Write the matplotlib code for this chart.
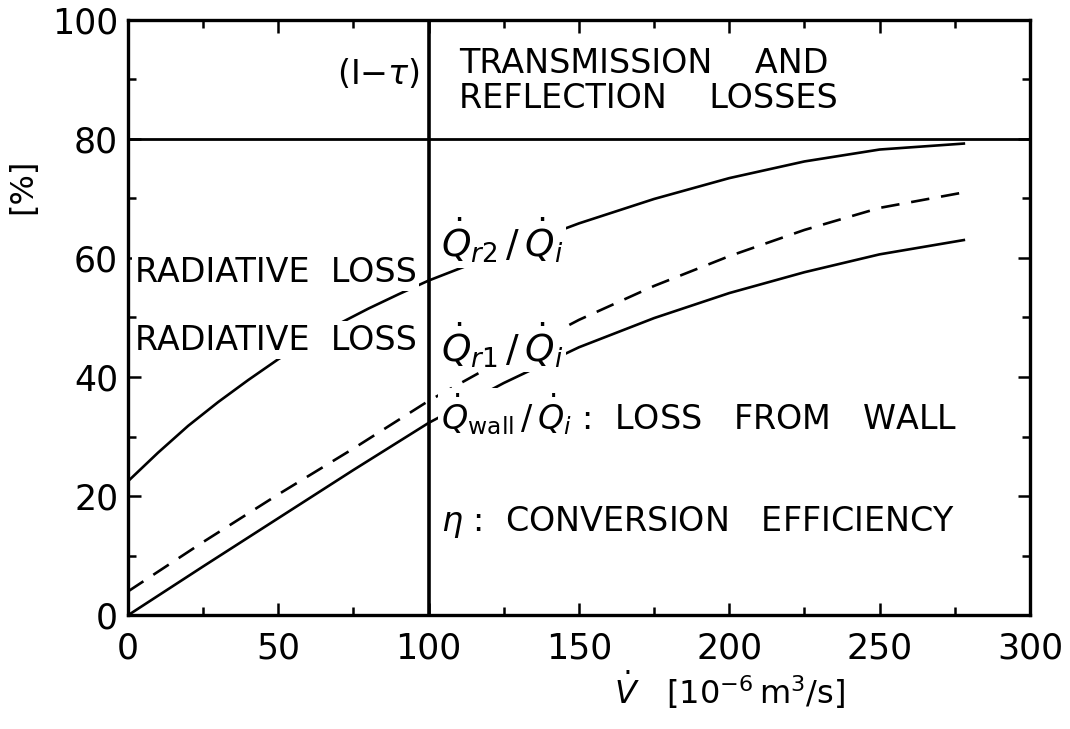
import matplotlib.pyplot as plt
from matplotlib.ticker import MultipleLocator

# flow rate [1e-6 m3/s]
x_upper = [0, 10, 20, 30, 40, 50, 60, 70, 80, 90, 100, 125, 150, 175, 200, 225, 250, 278]
y_upper = [22.5, 27.3, 31.8, 35.8, 39.5, 43, 46.1, 48.9, 51.5, 53.9, 56.2, 61.1, 65.8, 69.9, 73.4, 76.2, 78.2, 79.2]

x_dash = [0, 25, 50, 75, 100, 125, 150, 175, 200, 225, 250, 278]
y_dash = [4, 12.3, 20.3, 28, 36, 43, 49.6, 55.3, 60.3, 64.7, 68.4, 71]

x_lower = [0, 25, 50, 75, 100, 125, 150, 175, 200, 225, 250, 278]
y_lower = [0, 8.2, 16.3, 24.4, 32.3, 39, 45, 49.9, 54.1, 57.6, 60.6, 63]

v_ref = 100      # vertical line position
trans_level = 80  # transmission / reflection boundary

plt.rcParams['font.family'] = ['DejaVu Sans']
plt.rcParams['mathtext.fontset'] = 'dejavusans'

fig = plt.figure(figsize=(10.7, 7.29), dpi=100)
ax = fig.add_axes([0.1196, 0.156, 0.843, 0.817])

lw = 1.9
ax.plot(x_upper, y_upper, color='black', lw=lw, zorder=2)
ax.plot(x_dash, y_dash, color='black', lw=lw, dashes=(7, 4.5), zorder=2)
ax.plot(x_lower, y_lower, color='black', lw=lw, zorder=2)

ax.axvline(v_ref, color='black', lw=2.6, zorder=5)
ax.axhline(trans_level, color='black', lw=2.0, zorder=5)

box = dict(facecolor='white', edgecolor='none', pad=2)
fs = 24
ax.text(97, 90.8, r'(I$-\tau$)', fontsize=fs, ha='right', va='center', zorder=4)
ax.text(110, 89.7, 'TRANSMISSION    AND\nREFLECTION    LOSSES', fontsize=fs,
        ha='left', va='center', linespacing=1.05, zorder=4)
ax.text(2.3, 57.6, 'RADIATIVE  LOSS', fontsize=fs, ha='left', va='center', bbox=box, zorder=4)
ax.text(2.3, 46.2, 'RADIATIVE  LOSS', fontsize=fs, ha='left', va='center', bbox=box, zorder=4)
ax.text(104, 63.0, r'$\dot{Q}_{r2}\,/\,\dot{Q}_i$', fontsize=fs + 3, ha='left', va='center',
        bbox=box, zorder=4)
ax.text(104, 45.4, r'$\dot{Q}_{r1}\,/\,\dot{Q}_i$', fontsize=fs + 3, ha='left', va='center',
        bbox=box, zorder=4)
ax.text(104, 33.8, r'$\dot{Q}_{\rm wall}\,/\,\dot{Q}_i$ :  LOSS   FROM   WALL', fontsize=fs,
        ha='left', va='center', bbox=box, zorder=4)
ax.text(104, 15.6, r'$\eta$ :  CONVERSION   EFFICIENCY', fontsize=fs, ha='left', va='center',
        bbox=box, zorder=4)

ax.set_xlim(0, 300)
ax.set_ylim(0, 100)
ax.xaxis.set_major_locator(MultipleLocator(50))
ax.xaxis.set_minor_locator(MultipleLocator(25))
ax.yaxis.set_major_locator(MultipleLocator(20))
ax.yaxis.set_minor_locator(MultipleLocator(10))
ax.tick_params(which='both', direction='in', top=True, right=True, width=1.8)
ax.tick_params(which='major', length=9, labelsize=25, pad=7)
ax.tick_params(axis='x', which='major', pad=12)
ax.tick_params(which='minor', length=6)
for sp in ax.spines.values():
    sp.set_linewidth(2.4)

ax.set_xlabel(r'$\dot{V}$   $[10^{-6}\,\mathrm{m^3/s}]$', fontsize=23)
ax.xaxis.set_label_coords(0.667, -0.088)
ax.set_ylabel('[%]', fontsize=23)
ax.yaxis.set_label_coords(-0.1, 0.72)

plt.savefig('out.png', dpi=100)
plt.close()
